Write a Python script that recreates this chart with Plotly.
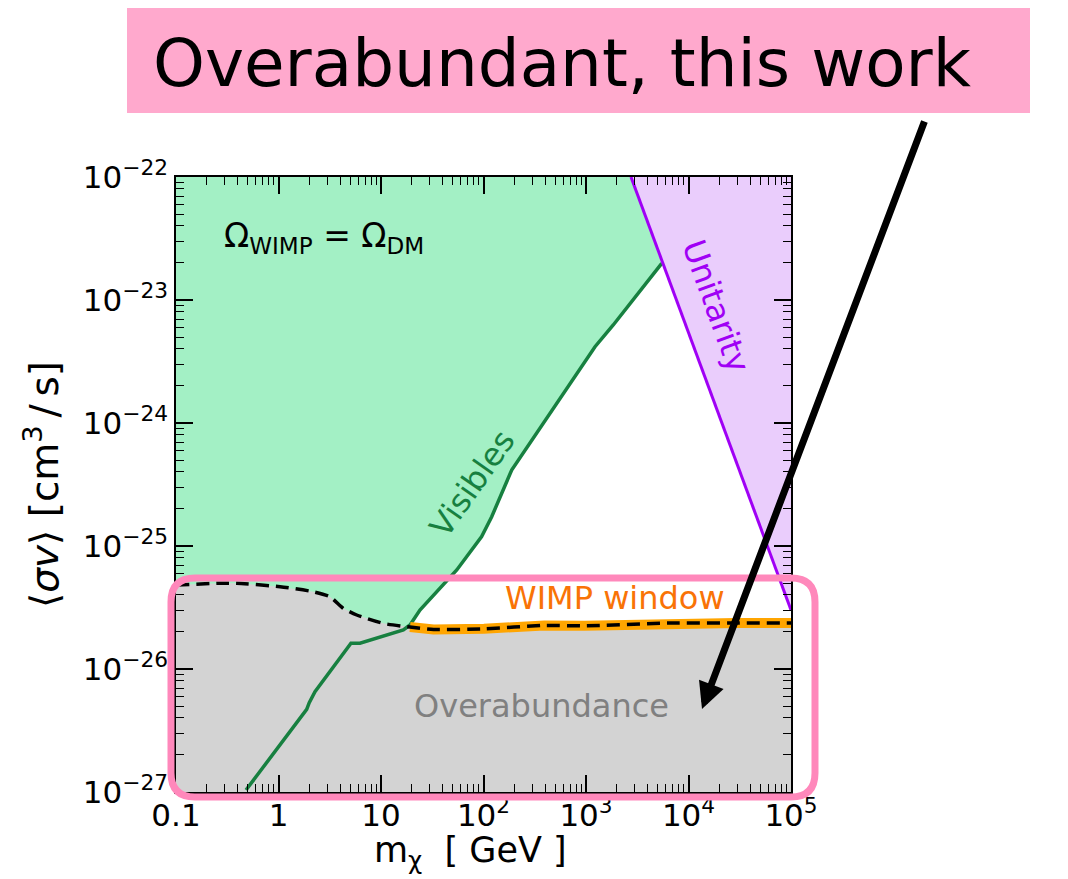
import numpy as np
import plotly.graph_objects as go

# ---------------- data ----------------
x_range_log = [-1, 5]          # m_chi from 0.1 to 1e5 GeV
y_range_log = [-27, -22]       # <sigma v> from 1e-27 to 1e-22

x_tick_vals = [0.1, 1, 10, 1e2, 1e3, 1e4, 1e5]
x_tick_text = ["0.1", "1", "10", "10<sup>2</sup>", "10<sup>3</sup>", "10<sup>4</sup>", "10<sup>5</sup>"]
y_tick_vals = [1e-27, 1e-26, 1e-25, 1e-24, 1e-23, 1e-22]
y_tick_text = ["10<sup>\u221227</sup>", "10<sup>\u221226</sup>", "10<sup>\u221225</sup>",
               "10<sup>\u221224</sup>", "10<sup>\u221223</sup>", "10<sup>\u221222</sup>"]

# Visibles bound (log10 m [GeV], log10 <sigma v>)
vis_logm = [-0.317, 0.275, 0.300, 0.356, 0.707, 0.795, 1.218, 1.283, 1.380,
            1.739, 1.982, 2.080, 2.275, 3.088, 3.266, 3.739]
vis_logsv = [-26.984, -26.328, -26.274, -26.184, -25.791, -25.791, -25.683, -25.642, -25.520,
             -25.195, -24.924, -24.762, -24.382, -23.380, -23.203, -22.702]

# Relic abundance curve Omega_WIMP = Omega_DM
relic_logm = [-1.0, -0.571, -0.408, 0.015, 0.340, 0.502, 0.632, 0.763, 1.022,
              1.283, 1.513, 2.005, 2.593, 2.986, 3.805, 4.460, 5.0]
relic_logsv = [-25.317, -25.303, -25.303, -25.331, -25.372, -25.412, -25.507, -25.561, -25.629,
               -25.659, -25.679, -25.673, -25.646, -25.649, -25.626, -25.626, -25.626]
wimp_window_start_logm = 1.283

# Unitarity bound (straight line in log-log)
unit_logm = [3.439, 5.0]
unit_logsv = [-22.0, -25.52]

# ---------------- styling ----------------
FONT = "DejaVu Sans"
GREEN_FILL = "#a3f0c5"
GREEN_LINE = "#178040"
PURPLE_FILL = "#eacdfc"
PURPLE_LINE = "#a000f5"
GRAY_FILL = "#d3d3d3"
ORANGE = "#ffa500"
ORANGE_TXT = "#f97306"
PINK_BOX = "#ffa9cd"
PINK_EDGE = "#ff88bb"

OFF = 8  # page body margin
W, H = 1060, 871
L, T = 176 - OFF, 177 - OFF
PW, PH = 615, 615
R, B = W - L - PW, H - T - PH


def px_to_paper(px, py):
    """reference-image pixel -> paper coordinates"""
    return (px - OFF - L) / PW, (T + PH - (py - OFF)) / PH


p10 = lambda a: [10 ** v for v in a]
xmin, xmax = 10 ** x_range_log[0], 10 ** x_range_log[1]
ymin, ymax = 10 ** y_range_log[0], 10 ** y_range_log[1]

fig = go.Figure()

# green excluded region (above Visibles, left of Unitarity)
gx = p10(vis_logm) + [10 ** unit_logm[0], xmin, xmin, 10 ** vis_logm[0]]
gy = p10(vis_logsv) + [ymax, ymax, ymin, ymin]
fig.add_trace(go.Scatter(x=gx, y=gy, fill="toself", fillcolor=GREEN_FILL, mode="none",
                         hoverinfo="skip", showlegend=False))

# purple unitarity region
ux = p10(unit_logm) + [xmax]
uy = p10(unit_logsv) + [ymax]
fig.add_trace(go.Scatter(x=ux, y=uy, fill="toself", fillcolor=PURPLE_FILL, mode="none",
                         hoverinfo="skip", showlegend=False))

# gray overabundance region (below relic curve)
ox = p10(relic_logm) + [xmax, xmin]
oy = p10(relic_logsv) + [ymin / 10, ymin / 10]
fig.add_trace(go.Scatter(x=ox, y=oy, fill="toself", fillcolor=GRAY_FILL, mode="none",
                         hoverinfo="skip", showlegend=False))

# Visibles line
fig.add_trace(go.Scatter(x=p10(vis_logm), y=p10(vis_logsv), mode="lines",
                         line=dict(color=GREEN_LINE, width=3.5), hoverinfo="skip", showlegend=False))
# Unitarity line
fig.add_trace(go.Scatter(x=p10(unit_logm), y=p10(unit_logsv), mode="lines",
                         line=dict(color=PURPLE_LINE, width=3), hoverinfo="skip", showlegend=False))

# WIMP window (orange band)
wm = [m for m in relic_logm if m >= wimp_window_start_logm]
ws = [s for m, s in zip(relic_logm, relic_logsv) if m >= wimp_window_start_logm]
fig.add_trace(go.Scatter(x=p10(wm), y=p10(ws), mode="lines",
                         line=dict(color=ORANGE, width=10), hoverinfo="skip", showlegend=False))
# relic dashed line
fig.add_trace(go.Scatter(x=p10(relic_logm), y=p10(relic_logsv), mode="lines",
                         line=dict(color="black", width=3.5, dash="13px,7px", shape="spline", smoothing=0.6),
                         hoverinfo="skip", showlegend=False))

minor_x = [m * 10 ** d for d in range(-1, 5) for m in range(2, 10)]
minor_y = [m * 10.0 ** d for d in range(-27, -22) for m in range(2, 10)]

axis_common = dict(type="log", showgrid=False, zeroline=False, showline=True, linecolor="black",
                   linewidth=1.5, mirror="allticks", ticks="inside", ticklen=17, tickwidth=1.5,
                   tickcolor="black", tickfont=dict(family=FONT, size=31, color="black"))

fig.update_xaxes(range=x_range_log, tickvals=x_tick_vals, ticktext=x_tick_text,
                 minor=dict(tickvals=minor_x, ticks="inside", ticklen=8, tickwidth=1.2, tickcolor="black"),
                 ticklabelstandoff=-5,
                 **axis_common)
fig.update_yaxes(range=y_range_log, tickvals=y_tick_vals, ticktext=y_tick_text,
                 minor=dict(tickvals=minor_y, ticks="inside", ticklen=8, tickwidth=1.2, tickcolor="black"),
                 title=dict(text="\u27e8<i>\u03c3v</i>\u27e9 [cm<sup>3</sup>\u2009/\u2009s]",
                            font=dict(family=FONT, size=39, color="black"), standoff=12),
                 **axis_common)

shapes = []
# title box
x0, y0 = px_to_paper(127, 113)
x1, y1 = px_to_paper(1030, 5)
shapes.append(dict(type="rect", xref="paper", yref="paper", x0=x0, y0=y0, x1=x1, y1=y1,
                   fillcolor=PINK_BOX, line=dict(width=0), layer="above"))

# rounded pink frame
left, right, top, bot, r = 171, 815, 578, 797, 24
def P(px, py):
    a, b = px_to_paper(px, py)
    return f"{a:.5f},{b:.5f}"
path = (f"M{P(left + r, top)} L{P(right - r, top)} Q{P(right, top)} {P(right, top + r)} "
        f"L{P(right, bot - r)} Q{P(right, bot)} {P(right - r, bot)} "
        f"L{P(left + r, bot)} Q{P(left, bot)} {P(left, bot - r)} "
        f"L{P(left, top + r)} Q{P(left, top)} {P(left + r, top)} Z")
shapes.append(dict(type="path", xref="paper", yref="paper", path=path,
                   line=dict(color=PINK_EDGE, width=7), layer="above"))

annotations = []
def txt(px, py, text, size, color, angle=0, family=FONT):
    a, b = px_to_paper(px, py)
    annotations.append(dict(x=a, y=b, xref="paper", yref="paper", text=text, showarrow=False,
                            textangle=angle, xanchor="center", yanchor="middle",
                            font=dict(family=family, size=size, color=color)))

txt(324, 237, "\u03a9<sub>WIMP</sub> = \u03a9<sub>DM</sub>", 33, "black")
txt(541, 706, "Overabundance", 32, "#808080")
txt(615, 598, "WIMP window", 32, ORANGE_TXT)
txt(472, 484, "Visibles", 32, GREEN_LINE, angle=-55)
txt(716, 306, "Unitarity", 32, PURPLE_LINE, angle=70)
txt(562, 64, "Overabundant, this work", 66, "black")
# x-axis title
txt(470, 852, "m<sub>\u03c7</sub>  [ GeV ]", 35, "black")

# arrow
hx, hy = px_to_paper(702, 709)
annotations.append(dict(x=hx, y=hy, xref="paper", yref="paper", text="", showarrow=True,
                        ax=925 - 702, ay=120 - 709, arrowhead=2, arrowsize=0.75, arrowwidth=7,
                        arrowcolor="black"))

fig.update_layout(width=W, height=H, margin=dict(l=L, r=R, t=T, b=B, autoexpand=False),
                  plot_bgcolor="white", paper_bgcolor="white", shapes=shapes, annotations=annotations,
                  font=dict(family=FONT))

fig.write_html("out.html")
